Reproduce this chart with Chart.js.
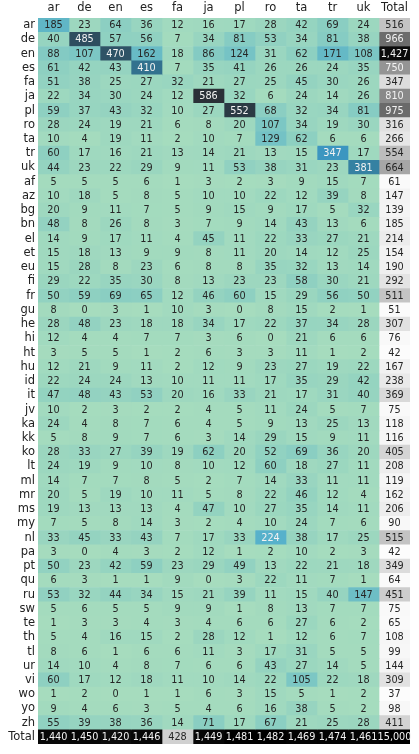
<!DOCTYPE html>
<html>
<head>
<meta charset="utf-8">
<script src="https://cdn.jsdelivr.net/npm/chart.js@4"></script>
<style>
  html, body { margin: 0; padding: 0; background: #fff; }
  #wrap { width: 419px; height: 754px; }
</style>
</head>
<body>
<div id="wrap"><canvas id="heat"></canvas></div>
<script>
// rows = true language, columns = predicted language
const rowLangs = ['ar', 'de', 'en', 'es', 'fa', 'ja', 'pl', 'ro', 'ta', 'tr', 'uk',
  'af', 'az', 'bg', 'bn', 'el', 'et', 'eu', 'fi', 'fr', 'gu', 'he', 'hi', 'ht', 'hu',
  'id', 'it', 'jv', 'ka', 'kk', 'ko', 'lt', 'ml', 'mr', 'ms', 'my', 'nl', 'pa', 'pt',
  'qu', 'ru', 'sw', 'te', 'th', 'tl', 'ur', 'vi', 'wo', 'yo', 'zh'];
const colLangs = ['ar', 'de', 'en', 'es', 'fa', 'ja', 'pl', 'ro', 'ta', 'tr', 'uk'];

const counts = [
  [185, 23, 64, 36, 12, 16, 17, 28, 42, 69, 24],
  [40, 485, 57, 56, 7, 34, 81, 53, 34, 81, 38],
  [88, 107, 470, 162, 18, 86, 124, 31, 62, 171, 108],
  [61, 42, 43, 410, 7, 35, 41, 26, 26, 24, 35],
  [51, 38, 25, 27, 32, 21, 27, 25, 45, 30, 26],
  [22, 34, 30, 24, 12, 586, 32, 6, 24, 14, 26],
  [59, 37, 43, 32, 10, 27, 552, 68, 32, 34, 81],
  [28, 24, 19, 21, 6, 8, 20, 107, 34, 19, 30],
  [10, 4, 19, 11, 2, 10, 7, 129, 62, 6, 6],
  [60, 17, 16, 21, 13, 14, 21, 13, 15, 347, 17],
  [44, 23, 22, 29, 9, 11, 53, 38, 31, 23, 381],
  [5, 5, 5, 6, 1, 3, 2, 3, 9, 15, 7],
  [10, 18, 5, 8, 5, 10, 10, 22, 12, 39, 8],
  [20, 9, 11, 7, 5, 9, 15, 9, 17, 5, 32],
  [48, 8, 26, 8, 3, 7, 9, 14, 43, 13, 6],
  [14, 9, 17, 11, 4, 45, 11, 22, 33, 27, 21],
  [15, 18, 13, 9, 9, 8, 11, 20, 14, 12, 25],
  [15, 28, 8, 23, 6, 8, 8, 35, 32, 13, 14],
  [29, 22, 35, 30, 8, 13, 23, 23, 58, 30, 21],
  [50, 59, 69, 65, 12, 46, 60, 15, 29, 56, 50],
  [8, 0, 3, 1, 10, 3, 0, 8, 15, 2, 1],
  [28, 48, 23, 18, 18, 34, 17, 22, 37, 34, 28],
  [12, 4, 4, 7, 7, 3, 6, 0, 21, 6, 6],
  [3, 5, 5, 1, 2, 6, 3, 3, 11, 1, 2],
  [12, 21, 9, 11, 2, 12, 9, 23, 27, 19, 22],
  [22, 24, 24, 13, 10, 11, 11, 17, 35, 29, 42],
  [47, 48, 43, 53, 20, 16, 33, 21, 17, 31, 40],
  [10, 2, 3, 2, 2, 4, 5, 11, 24, 5, 7],
  [24, 4, 8, 7, 6, 4, 5, 9, 13, 25, 13],
  [5, 8, 9, 7, 6, 3, 14, 29, 15, 9, 11],
  [28, 33, 27, 39, 19, 62, 20, 52, 69, 36, 20],
  [24, 19, 9, 10, 8, 10, 12, 60, 18, 27, 11],
  [14, 7, 7, 8, 5, 2, 7, 14, 33, 11, 11],
  [20, 5, 19, 10, 11, 5, 8, 22, 46, 12, 4],
  [19, 13, 13, 13, 4, 47, 10, 27, 35, 14, 11],
  [7, 5, 8, 14, 3, 2, 4, 10, 24, 7, 6],
  [33, 45, 33, 43, 7, 17, 33, 224, 38, 17, 25],
  [3, 0, 4, 3, 2, 12, 1, 2, 10, 2, 3],
  [50, 23, 42, 59, 23, 29, 49, 13, 22, 21, 18],
  [6, 3, 1, 1, 9, 0, 3, 22, 11, 7, 1],
  [53, 32, 44, 34, 15, 21, 39, 11, 15, 40, 147],
  [5, 6, 5, 5, 9, 9, 1, 8, 13, 7, 7],
  [1, 3, 3, 4, 3, 4, 6, 6, 27, 6, 2],
  [5, 4, 16, 15, 2, 28, 12, 1, 12, 6, 7],
  [8, 6, 1, 6, 6, 11, 3, 17, 31, 5, 5],
  [14, 10, 4, 8, 7, 6, 6, 43, 27, 14, 5],
  [60, 17, 12, 18, 11, 10, 14, 22, 105, 22, 18],
  [1, 2, 0, 1, 1, 6, 3, 15, 5, 1, 2],
  [9, 4, 6, 3, 5, 4, 6, 16, 38, 5, 2],
  [55, 39, 38, 36, 14, 71, 17, 67, 21, 25, 28]
];

const rowTotals = [516, 966, 1427, 750, 347, 810, 975, 316, 266, 554, 664,
  61, 147, 139, 185, 214, 154, 190, 292, 511, 51, 307, 76, 42, 167,
  238, 369, 75, 118, 116, 405, 208, 119, 162, 206, 90, 515, 42, 349,
  64, 451, 75, 65, 108, 99, 144, 309, 37, 98, 411];
const colTotals = [1440, 1450, 1420, 1446, 428, 1449, 1481, 1482, 1469, 1474, 1461];
const grandTotal = 15000;

const yLabels = [...rowLangs, 'Total'];
const xLabels = [...colLangs, 'Total'];

// colour ramps (value -> rgb)
const cellStops = [
  [0, [166, 220, 190]], [40, [150, 212, 192]], [100, [126, 200, 196]],
  [185, [96, 182, 198]], [230, [86, 176, 204]], [347, [60, 150, 192]],
  [385, [52, 126, 158]], [475, [46, 80, 99]], [590, [42, 47, 53]]
];
const greyStops = [
  [0, 255], [0.125, 240], [0.25, 217], [0.375, 189], [0.5, 150],
  [0.625, 115], [0.75, 82], [0.875, 37], [1, 0]
];

function rampCell(v) {
  for (let k = 1; k < cellStops.length; k++) {
    const [v1, c1] = cellStops[k];
    const [v0, c0] = cellStops[k - 1];
    if (v <= v1) {
      const t = (v - v0) / (v1 - v0);
      return 'rgb(' + c0.map((c, n) => Math.round(c + t * (c1[n] - c))).join(',') + ')';
    }
  }
  const c = cellStops[cellStops.length - 1][1];
  return 'rgb(' + c.join(',') + ')';
}

function rampGrey(v) {
  const f = Math.min(1, v / 1482);
  for (let k = 1; k < greyStops.length; k++) {
    const [f1, g1] = greyStops[k];
    const [f0, g0] = greyStops[k - 1];
    if (f <= f1) {
      const g = Math.round(g0 + (f - f0) / (f1 - f0) * (g1 - g0));
      return 'rgb(' + g + ',' + g + ',' + g + ')';
    }
  }
  return 'rgb(0,0,0)';
}

function valueAt(i, j) {
  const lastRow = i === rowLangs.length;
  const lastCol = j === colLangs.length;
  if (lastRow && lastCol) return grandTotal;
  if (lastRow) return colTotals[j];
  if (lastCol) return rowTotals[i];
  return counts[i][j];
}

function isTotal(i, j) {
  return i === rowLangs.length || j === colLangs.length;
}

function cellColor(i, j) {
  const v = valueAt(i, j);
  return isTotal(i, j) ? rampGrey(v) : rampCell(v);
}

function textColor(i, j) {
  const v = valueAt(i, j);
  if (isTotal(i, j)) return v > 700 ? '#f2f2f2' : '#262626';
  return v > 200 ? '#f2f2f2' : '#262626';
}

// one stacked dataset per column, each cell is one unit wide
const datasets = xLabels.map((name, j) => ({
  label: name,
  data: yLabels.map(() => 1),
  backgroundColor: yLabels.map((_, i) => cellColor(i, j)),
  borderWidth: 0,
  barPercentage: 1,
  categoryPercentage: 1
}));

const cellText = {
  id: 'cellText',
  afterDatasetsDraw(chart) {
    const ctx = chart.ctx;
    ctx.save();
    ctx.font = '9.7px "DejaVu Sans"';
    ctx.textAlign = 'center';
    ctx.textBaseline = 'middle';
    chart.data.datasets.forEach((ds, j) => {
      chart.getDatasetMeta(j).data.forEach((bar, i) => {
        ctx.fillStyle = textColor(i, j);
        ctx.fillText(valueAt(i, j).toLocaleString('en-US'), (bar.x + bar.base) / 2, bar.y + 0.5);
      });
    });
    ctx.restore();
  }
};

const tickFont = { family: 'DejaVu Sans', size: 11.5 };

new Chart(document.getElementById('heat'), {
  type: 'bar',
  data: { labels: yLabels, datasets },
  options: {
    indexAxis: 'y',
    responsive: true,
    maintainAspectRatio: false,
    animation: false,
    layout: { padding: { top: 0, right: 9, bottom: 9.5, left: 0 } },
    plugins: {
      legend: { display: false },
      tooltip: { enabled: false }
    },
    scales: {
      x: {
        type: 'linear',
        position: 'top',
        stacked: true,
        min: 0,
        max: xLabels.length,
        grid: { display: false, drawTicks: false },
        border: { display: false },
        afterBuildTicks: (scale) => {
          scale.ticks = xLabels.map((_, j) => ({ value: j + 0.5 }));
        },
        afterFit: (scale) => { scale.height = 18; },
        ticks: {
          autoSkip: false,
          maxRotation: 0,
          padding: 3,
          color: '#222',
          font: tickFont,
          callback: (v, idx) => xLabels[idx]
        }
      },
      y: {
        type: 'category',
        stacked: true,
        grid: { display: false, drawTicks: false },
        border: { display: false },
        afterFit: (scale) => { scale.width = 38; },
        ticks: {
          autoSkip: false,
          padding: 3,
          color: '#222',
          font: tickFont
        }
      }
    }
  },
  plugins: [cellText]
});
</script>
</body>
</html>
